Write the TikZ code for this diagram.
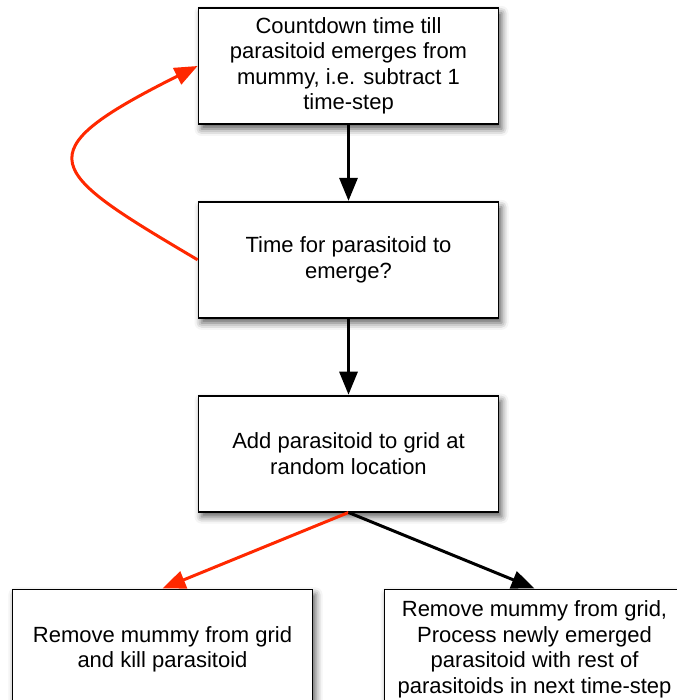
\documentclass[tikz,border=0pt]{standalone}
\usepackage{fontspec}
\setmainfont{Liberation Sans}
\usetikzlibrary{positioning,arrows.meta,shadows.blur}
\definecolor{loopred}{RGB}{255,40,0}
\tikzset{
  box/.style={draw,line width=1.8pt,fill=white,
    minimum width=300pt,minimum height=116pt,inner sep=0pt,
    align=center,font=\fontsize{22}{25.5}\selectfont,
    blur shadow={shadow xshift=3pt,shadow yshift=-5pt,
      shadow blur radius=7pt,shadow opacity=65}},
  flow/.style={-{Triangle[length=23pt,width=18pt]},line width=3pt},
}

\begin{document}
\begin{tikzpicture}[x=1pt,y=1pt]
\useasboundingbox (0,0) rectangle (676,-700);

\node[box] (countdown) at (348.5,-66) {Countdown time till\\parasitoid emerges from\\mummy, i.e. subtract 1\\time-step};
\node[box,below=76pt of countdown] (emerge) {Time for parasitoid to\\emerge?};
\node[box,below=76pt of emerge] (addgrid) {Add parasitoid to grid at\\random location};

\node[box,minimum height=120pt,below=76pt of addgrid,xshift=-186pt] (kill) {Remove mummy from grid\\and kill parasitoid};
\node[box,minimum height=120pt,below=76pt of addgrid,xshift=186pt] (process) {Remove mummy from grid,\\Process newly emerged\\parasitoid with rest of\\parasitoids in next time-step};

% main flow
\draw[flow] (countdown) -- (emerge);
\draw[flow] (emerge) -- (addgrid);
\draw[flow,loopred] (addgrid.south) -- (kill.north);
\draw[flow] (addgrid.south) -- (process.north);

% loop back while waiting
\draw[flow,loopred] (emerge.west) .. controls (46,-170) and (22,-154) .. (countdown.west);

\end{tikzpicture}
\end{document}
